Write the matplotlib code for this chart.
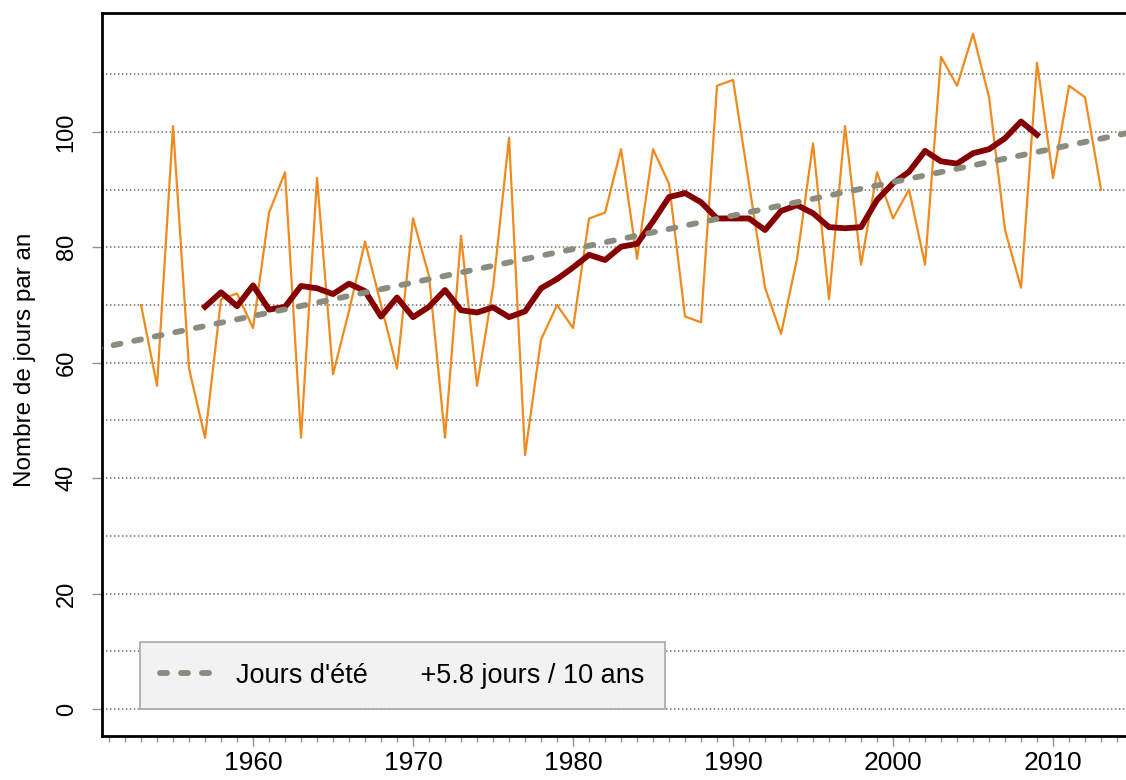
import numpy as np
import matplotlib
matplotlib.use("Agg")
import matplotlib.pyplot as plt

plt.rcParams['font.family'] = ['Liberation Sans', 'DejaVu Sans']

# Jours d'été par an (1953-2013)
years = np.arange(1953, 2014)
days = [70, 56, 101, 59, 47, 71, 72, 66, 86, 93,
        47, 92, 58, 69, 81, 70, 59, 85, 75, 47,
        82, 56, 73, 99, 44, 64, 70, 66, 85, 86,
        97, 78, 97, 91, 68, 67, 108, 109, 91, 73,
        65, 78, 98, 71, 101, 77, 93, 85, 90, 77,
        113, 108, 117, 106, 83, 73, 112, 92, 108, 106,
        90]

# moyenne glissante (1957-2009)
smooth_years = np.arange(1957, 2010)
smooth_days = [69.7, 72.2, 69.8, 73.4, 69.2, 69.7, 73.3, 72.9, 71.9, 73.7,
               72.4, 68.0, 71.3, 67.9, 69.7, 72.6, 69.1, 68.7, 69.6, 67.9,
               68.9, 72.9, 74.5, 76.5, 78.7, 77.8, 80.1, 80.6, 84.5, 88.7,
               89.4, 87.8, 85.0, 85.0, 85.0, 83.0, 86.3, 87.3, 85.9, 83.5,
               83.3, 83.5, 88.2, 91.1, 93.1, 96.7, 94.9, 94.5, 96.3, 97.0,
               98.9, 101.8, 99.5]

# tendance linéaire
trend_years = [1950, 2015]
trend_days = [62.3, 100.0]

W, H = 1126, 780
fig = plt.figure(figsize=(W / 100, H / 100), dpi=100)
ax = fig.add_axes([102 / W, 44 / H, 1 - 102 / W, (736 - 13) / H])

ax.plot(years, days, color='#f08a1c', lw=1.6, zorder=3)
ax.plot(smooth_years, smooth_days, color='#850000', lw=4.2, zorder=4,
        solid_joinstyle='round')
ax.plot(trend_years, trend_days, color='#8a8c7e', lw=4.2, zorder=5,
        dashes=(1.2, 2.4), dash_capstyle='round',
        label="Jours d'été       +5.8 jours / 10 ans")

ax.set_xlim(1950.56, 2014.56)
ax.set_ylim(-4.68, 120.6)

ax.set_xticks(range(1960, 2011, 10))
ax.set_xticks(range(1951, 2015), minor=True)
ax.set_yticks(range(0, 101, 20))
ax.set_yticks(range(0, 111, 10), minor=True)
ax.yaxis.grid(True, which='both', color='#707070', linestyle=(0, (1, 1.6)), lw=1.1)
ax.set_axisbelow(True)

ax.tick_params(axis='x', which='major', length=7.5, width=1, color='#909090',
               labelsize=19, pad=3)
ax.tick_params(axis='x', which='minor', length=4.5, width=1, color='#909090')
ax.tick_params(axis='y', which='major', length=7.5, width=1, color='#909090',
               labelsize=17, pad=10)
ax.tick_params(axis='y', which='minor', length=0)
for lab in ax.get_yticklabels():
    lab.set_rotation(90)
    lab.set_va('center')

for side in ['left', 'bottom', 'top']:
    ax.spines[side].set_linewidth(2)
    ax.spines[side].set_color('black')
ax.spines['right'].set_visible(False)

ax.set_ylabel("Nombre de jours par an", fontsize=17.5)
ax.yaxis.set_label_coords(-0.064, 0.52)

leg = ax.legend(loc='lower left', bbox_to_anchor=(38 / (W - 102), 27 / 723),
                borderaxespad=0, fontsize=19.5, frameon=True, fancybox=False,
                handlelength=2.2, borderpad=0.75, handletextpad=0.6)
leg.get_frame().set_facecolor('#f2f2f2')
leg.get_frame().set_edgecolor('#a8a8a8')
leg.get_frame().set_alpha(1)
leg.get_frame().set_linewidth(1.2)

fig.savefig("out.png", dpi=100)
